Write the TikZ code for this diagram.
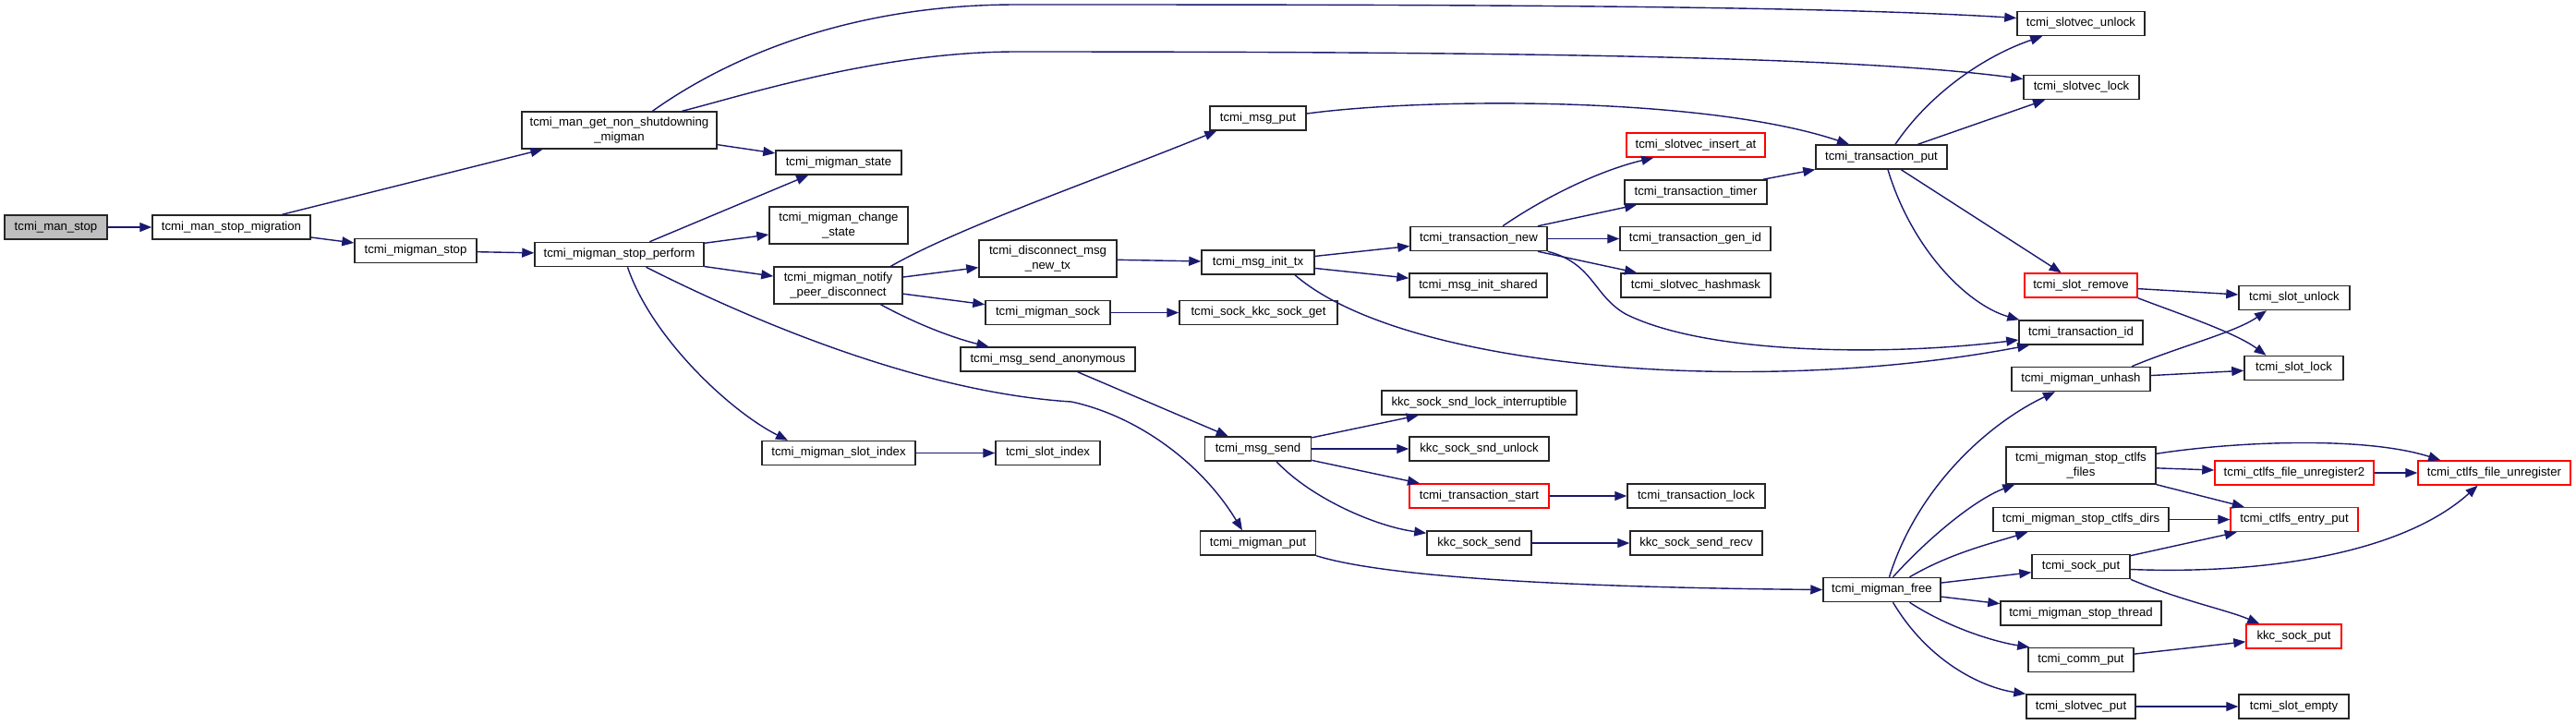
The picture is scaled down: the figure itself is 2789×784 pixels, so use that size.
\documentclass[tikz,border=0pt]{standalone}
\usepackage{fontspec}
\setmainfont{Liberation Sans}
\usetikzlibrary{arrows.meta,calc}
\definecolor{callblue}{RGB}{25,25,112}

\begin{document}
\begin{tikzpicture}[x=0.5pt, y=-0.5pt,
    fn/.style={draw=black!85, line width=0.75pt, fill=white, inner sep=0pt,
      minimum height=13pt, font=\fontsize{6.6}{7.6}\selectfont},
    wd/.style={minimum width=#1*0.5pt},
    tall/.style={minimum height=20pt, align=center},
    missing/.style={draw=red},
    call/.style={draw=callblue, line width=0.7pt, -{Triangle[length=6.5pt,width=5pt]}}]
    \useasboundingbox (0,0) rectangle (2789,784);
    % first columns
    \node[fn, fill=black!25, wd=111] (manstop) at (60.5,246) {tcmi\_man\_stop};
    \node[fn, wd=171] (stopmig) at (250.5,246) {tcmi\_man\_stop\_migration};
    \node[fn, tall, wd=211] (getnonsd) at (670.5,141) {tcmi\_man\_get\_non\_shutdowning\\\_migman};
    \node[fn, wd=132] (migstop) at (450,271.5) {tcmi\_migman\_stop};
    \node[fn, wd=183] (stopperf) at (670.5,275.5) {tcmi\_migman\_stop\_perform};
    \node[fn, wd=136] (migstate) at (908,176) {tcmi\_migman\_state};
    \node[fn, tall, wd=150] (chgstate) at (908,244) {tcmi\_migman\_change\\\_state};
    \node[fn, tall, wd=139] (notify) at (907.5,309) {tcmi\_migman\_notify\\\_peer\_disconnect};
    \node[fn, wd=166] (migslotidx) at (908,490.5) {tcmi\_migman\_slot\_index};
    % messages
    \node[fn, wd=104] (msgput) at (1362,128) {tcmi\_msg\_put};
    \node[fn, tall, wd=149] (discnew) at (1134.5,280) {tcmi\_disconnect\_msg\\\_new\_tx};
    \node[fn, wd=135] (migsock) at (1134.5,338.5) {tcmi\_migman\_sock};
    \node[fn, wd=189] (sendanon) at (1134.5,389) {tcmi\_msg\_send\_anonymous};
    \node[fn, wd=113] (slotidx) at (1134.5,490.5) {tcmi\_slot\_index};
    \node[fn, wd=122] (msginittx) at (1362,284) {tcmi\_msg\_init\_tx};
    \node[fn, wd=171] (sockget) at (1362.5,338.5) {tcmi\_sock\_kkc\_sock\_get};
    \node[fn, wd=115] (msgsend) at (1362,486) {tcmi\_msg\_send};
    \node[fn, wd=125] (migput) at (1362,588) {tcmi\_migman\_put};
    % transactions
    \node[fn, wd=148] (transnew) at (1601,258.5) {tcmi\_transaction\_new};
    \node[fn, wd=149] (initshared) at (1600.5,309) {tcmi\_msg\_init\_shared};
    \node[fn, wd=211] (sndlock) at (1601.5,436) {kkc\_sock\_snd\_lock\_interruptible};
    \node[fn, wd=151] (sndunlock) at (1601.5,486) {kkc\_sock\_snd\_unlock};
    \node[fn, missing, wd=151] (transstart) at (1601.5,537) {tcmi\_transaction\_start};
    \node[fn, wd=113] (socksend) at (1601.5,588) {kkc\_sock\_send};
    \node[fn, missing, wd=150] (insertat) at (1836,157) {tcmi\_slotvec\_insert\_at};
    \node[fn, wd=154] (transtimer) at (1836,208) {tcmi\_transaction\_timer};
    \node[fn, wd=163] (genid) at (1835.5,258.5) {tcmi\_transaction\_gen\_id};
    \node[fn, wd=162] (hashmask) at (1836,309) {tcmi\_slotvec\_hashmask};
    \node[fn, wd=149] (translock) at (1836.5,537) {tcmi\_transaction\_lock};
    \node[fn, wd=143] (sendrecv) at (1836.5,588) {kkc\_sock\_send\_recv};
    \node[fn, wd=142] (transput) at (2037,170) {tcmi\_transaction\_put};
    \node[fn, wd=127] (migfree) at (2037.5,638.5) {tcmi\_migman\_free};
    % right columns
    \node[fn, wd=138] (slotvecunlock) at (2253,25.5) {tcmi\_slotvec\_unlock};
    \node[fn, wd=125] (slotveclock) at (2253.5,94.5) {tcmi\_slotvec\_lock};
    \node[fn, missing, wd=122] (slotremove) at (2253,309) {tcmi\_slot\_remove};
    \node[fn, wd=134] (transid) at (2253,360) {tcmi\_transaction\_id};
    \node[fn, wd=150] (unhash) at (2253,410.5) {tcmi\_migman\_unhash};
    \node[fn, tall, wd=162] (ctlfsfiles) at (2253,504) {tcmi\_migman\_stop\_ctlfs\\\_files};
    \node[fn, wd=190] (ctlfsdirs) at (2253,562.5) {tcmi\_migman\_stop\_ctlfs\_dirs};
    \node[fn, wd=106] (sockput) at (2253,613.5) {tcmi\_sock\_put};
    \node[fn, wd=174] (stopthread) at (2253,664) {tcmi\_migman\_stop\_thread};
    \node[fn, wd=114] (commput) at (2253,714.5) {tcmi\_comm\_put};
    \node[fn, wd=118] (slotvecput) at (2253,765) {tcmi\_slotvec\_put};
    \node[fn, wd=120] (slotunlock) at (2484,322.5) {tcmi\_slot\_unlock};
    \node[fn, wd=107] (slotlock) at (2483.5,398.5) {tcmi\_slot\_lock};
    \node[fn, missing, wd=172] (unregtwo) at (2484,512) {tcmi\_ctlfs\_file\_unregister2};
    \node[fn, missing, wd=138] (entryput) at (2484,562.5) {tcmi\_ctlfs\_entry\_put};
    \node[fn, missing, wd=103] (kkcsockput) at (2483.5,689) {kkc\_sock\_put};
    \node[fn, wd=119] (slotempty) at (2483.5,765) {tcmi\_slot\_empty};
    \node[fn, missing, wd=165] (unreg) at (2700.5,512) {tcmi\_ctlfs\_file\_unregister};
    % straight calls
    \foreach \a/\b in {manstop/stopmig, stopmig/getnonsd, stopmig/migstop, getnonsd/migstate,
        migstop/stopperf, stopperf/migstate, stopperf/chgstate, stopperf/notify,
        notify/discnew, notify/migsock, discnew/msginittx, migsock/sockget,
        sendanon/msgsend, msginittx/transnew, msginittx/initshared,
        transnew/transtimer, transnew/genid, transnew/hashmask, transtimer/transput,
        transput/slotveclock, transput/slotremove, slotremove/slotunlock, unhash/slotlock,
        migslotidx/slotidx, msgsend/sndlock, msgsend/sndunlock, msgsend/transstart,
        transstart/translock, socksend/sendrecv, migfree/sockput, migfree/stopthread,
        ctlfsfiles/unregtwo, ctlfsfiles/entryput, unregtwo/unreg, ctlfsdirs/entryput,
        sockput/entryput, commput/kkcsockput, slotvecput/slotempty}
      \draw[call] (\a) -- (\b);
    % curved calls
    \draw[call] ($(getnonsd.north)+(36,0)$) .. controls (770,75) and (900,5) .. (1100,5)
      .. controls (1500,5) and (1950,5) .. ($(slotvecunlock.west)+(0,-6)$);
    \draw[call] ($(getnonsd.north)+(68,0)$) .. controls (800,105) and (950,56) .. (1100,56)
      .. controls (1600,56) and (2000,60) .. ($(slotveclock.west)+(0,-9)$);
    \draw[call] ($(stopperf.south)+(9,0)$) .. controls (705,365) and (790,445) .. ($(migslotidx.north)+(-55,0)$);
    \draw[call] ($(stopperf.south)+(29,0)$) .. controls (820,350) and (1000,425) .. (1160,435)
      .. controls (1230,450) and (1300,500) .. ($(migput.north)+(-17,0)$);
    \draw[call] ($(notify.north)+(57,0)$) .. controls (1040,245) and (1200,190) .. ($(msgput.south west)+(8,0)$);
    \draw[call] ($(notify.south)+(46,0)$) .. controls (1000,355) and (1040,368) .. ($(sendanon.north)+(-64,0)$);
    \draw[call] ($(msgput.east)+(0,-5)$) .. controls (1550,105) and (1850,105) .. ($(transput.north)+(-35,0)$);
    \draw[call] ($(msginittx.south)+(40,0)$) .. controls (1520,400) and (1900,430) .. ($(transid.south west)+(12,0)$);
    \draw[call] (transnew.south east) .. controls (1725,285) and (1725,320) .. (1760,340)
      .. controls (1850,385) and (2050,385) .. ($(transid.west)+(0,8)$);
    \draw[call] ($(transnew.north)+(26,0)$) .. controls (1670,215) and (1730,185) .. ($(insertat.south west)+(30,0)$);
    \draw[call] ($(transput.north)+(15,0)$) .. controls (2090,100) and (2150,60) .. ($(slotvecunlock.south west)+(28,0)$);
    \draw[call] ($(transput.south)+(7,0)$) .. controls (2070,270) and (2130,330) .. ($(transid.north west)+(1,0)$);
    \draw[call] (slotremove.south east) .. controls (2360,340) and (2420,360) .. ($(slotlock.north)+(-30,0)$);
    \draw[call] ($(unhash.north)+(55,0)$) .. controls (2360,375) and (2420,360) .. ($(slotunlock.south)+(-30,0)$);
    \draw[call] ($(msgsend.south)+(20,0)$) .. controls (1420,540) and (1490,570) .. ($(socksend.north west)+(0,3)$);
    \draw[call] (migput.south east) .. controls (1500,625) and (1700,636) .. (migfree.west);
    \draw[call] ($(migfree.north)+(8,0)$) .. controls (2075,530) and (2150,460) .. ($(unhash.south)+(-28,0)$);
    \draw[call] ($(migfree.north)+(12,0)$) .. controls (2090,580) and (2140,540) .. ($(ctlfsfiles.south west)+(10,0)$);
    \draw[call] ($(migfree.north)+(30,0)$) .. controls (2110,600) and (2150,590) .. ($(ctlfsdirs.south west)+(38,0)$);
    \draw[call] ($(migfree.south)+(30,0)$) .. controls (2110,680) and (2160,695) .. ($(commput.north west)+(2,0)$);
    \draw[call] ($(migfree.south)+(12,0)$) .. controls (2090,720) and (2150,745) .. (slotvecput.north west);
    \draw[call] ($(ctlfsfiles.north east)+(0,8)$) .. controls (2420,478) and (2560,472) .. ($(unreg.north west)+(25,0)$);
    \draw[call] ($(sockput.east)+(0,3)$) .. controls (2450,622) and (2600,600) .. ($(unreg.south)+(-18,0)$);
    \draw[call] (sockput.south east) .. controls (2360,650) and (2410,660) .. ($(kkcsockput.north west)+(15,0)$);
\end{tikzpicture}
\end{document}
